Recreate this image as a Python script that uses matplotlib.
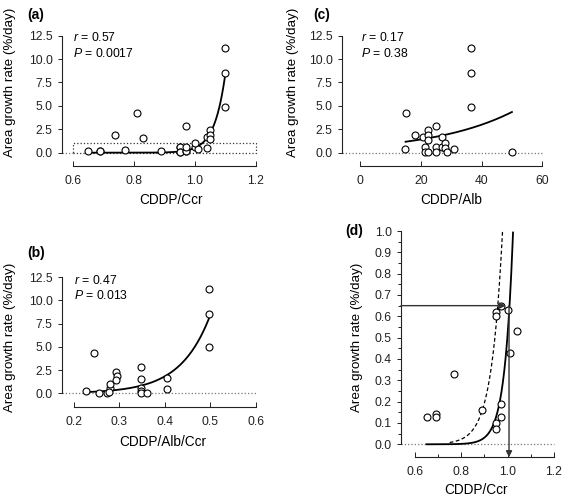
import numpy as np
import matplotlib.pyplot as plt
from matplotlib.patches import Rectangle
from matplotlib.ticker import MultipleLocator, FixedLocator, FormatStrFormatter

plt.rcParams['font.family'] = ['Liberation Sans', 'DejaVu Sans']
plt.rcParams['mathtext.fontset'] = 'custom'
plt.rcParams['mathtext.rm'] = 'Liberation Sans'
plt.rcParams['mathtext.it'] = 'Liberation Sans:italic'

# CDDP/Ccr vs area growth rate (panel a, d)
ccr_x = [0.65, 0.69, 0.69, 0.77, 0.89, 0.95, 0.95, 0.95, 0.95, 0.97, 0.97, 0.97, 1.00, 1.01, 1.04,
         0.74, 0.81, 0.83, 0.97, 1.00, 1.04, 1.05, 1.05, 1.05, 1.10, 1.10, 1.10]
ccr_y = [0.13, 0.14, 0.13, 0.33, 0.16, 0.62, 0.60, 0.10, 0.07, 0.19, 0.13, 0.65, 0.63, 0.43, 0.53,
         1.89, 4.27, 1.60, 2.85, 1.07, 1.70, 2.40, 1.90, 1.42, 11.15, 8.48, 4.90]

# CDDP/Alb/Ccr (panel b)
albccr_x = [0.226, 0.245, 0.256, 0.272, 0.279, 0.279, 0.277, 0.292, 0.295, 0.292, 0.347, 0.347,
            0.347, 0.347, 0.347, 0.360, 0.404, 0.404, 0.497, 0.497, 0.497]
albccr_y = [0.28, 4.31, 0.07, 0.07, 0.54, 1.00, 0.14, 2.33, 1.86, 1.43, 2.80, 1.54,
            0.54, 0.20, 0.07, 0.07, 1.68, 0.46, 11.2, 8.55, 4.96]

# CDDP/Alb (panel c)
alb_x = [14.8, 15.1, 18.1, 20.8, 21.4, 21.4, 22.3, 22.3, 22.3, 22.5, 25.0, 25.0, 25.0,
         27.1, 27.1, 27.9, 27.9, 28.5, 31.0, 36.5, 36.5, 36.5, 50.1]
alb_y = [0.36, 4.27, 1.89, 1.64, 0.64, 0.10, 2.42, 1.89, 1.35, 0.10, 2.85, 0.64, 0.10,
         1.71, 0.64, 1.00, 0.53, 0.10, 0.39, 11.15, 8.48, 4.91, 0.10]

# exponential fits y = y0 * exp(b * (x - x0))
fit_a = dict(y0=1.0, b=28.0, x0=1.0235, lo=0.65, hi=1.10)
fit_b = dict(y0=8.5, b=15.3, x0=0.50, lo=0.225, hi=0.50)
fit_c = dict(y0=1.17, b=0.0375, x0=15.0, lo=15.0, hi=50.0)
fit_d_dash = dict(y0=1.0, b=21.0, x0=0.978, lo=0.75, hi=0.978)

stats_a = ('0.57', '0.0017')
stats_b = ('0.47', '0.013')
stats_c = ('0.17', '0.38')
cut_y = 0.65
cut_x = 1.006

W, H = 563, 500
fig = plt.figure(figsize=(W / 100, H / 100), dpi=100)


def box(l, r, t, b):
    return [l / W, 1 - b / H, (r - l) / W, (b - t) / H]


def fit_line(ax, f, ls='-', lw=1.3, top=None):
    xs = np.linspace(f['lo'], f['hi'], 300)
    ys = f['y0'] * np.exp(f['b'] * (xs - f['x0']))
    if top is not None:
        m = ys <= top
        xs, ys = xs[m], ys[m]
    ax.plot(xs, ys, color='black', ls=ls, lw=lw, zorder=3)


def style(ax, xb, yb):
    for s in ['top', 'right']:
        ax.spines[s].set_visible(False)
    ax.spines['left'].set_bounds(*yb)
    ax.spines['bottom'].set_bounds(*xb)
    for s in ['left', 'bottom']:
        ax.spines[s].set_linewidth(0.8)
        ax.spines[s].set_color('#222222')
    ax.tick_params(axis='y', direction='out', length=3, width=0.7, pad=4, labelsize=8.7, colors='#222222')
    ax.tick_params(axis='x', direction='in', length=3.5, width=0.7, pad=6.5, labelsize=8.7, colors='#222222')
    ax.patch.set_alpha(0)


def scatter(ax, x, y, clip=False):
    ax.plot(x, y, 'o', ms=5, mfc='white', mec='black', mew=0.8, clip_on=clip, zorder=4)


def zero_line(ax, x0, x1):
    ax.plot([x0, x1], [0, 0], ls=':', color='#777777', lw=0.9, clip_on=False, zorder=1)


def stats(ax, x, r, p, y1, y2):
    ax.text(x, y1, r'$\it{r}$ = ' + r, fontsize=8.8, va='center', ha='left')
    ax.text(x, y2, r'$\it{P}$ = ' + p, fontsize=8.8, va='center', ha='left')


# (a)
ax = fig.add_axes(box(62.3, 256, 35.7, 165.7))
ax.set_xlim(0.566, 1.2)
ax.set_ylim(-1.39, 12.5)
style(ax, (0.6, 1.2), (0, 12.5))
ax.set_xticks([0.6, 0.8, 1.0, 1.2])
ax.set_yticks(np.arange(0, 12.6, 2.5))
ax.xaxis.set_major_formatter(FormatStrFormatter('%.1f'))
ax.yaxis.set_major_formatter(FormatStrFormatter('%.1f'))
zero_line(ax, 0.566, 0.6)
ax.add_patch(Rectangle((0.6, 0), 0.6, 1.0, fill=False, ls=':', lw=0.9, ec='#333333', clip_on=False, zorder=2))
fit_line(ax, fit_a)
scatter(ax, ccr_x, ccr_y)
stats(ax, 0.6, *stats_a, 12.36, 10.65)

# (c)
ax = fig.add_axes(box(342.3, 542.3, 35.7, 165.7))
ax.set_xlim(-5.83, 60)
ax.set_ylim(-1.39, 12.5)
style(ax, (0, 60), (0, 12.5))
ax.set_xticks([0, 20, 40, 60])
ax.set_yticks(np.arange(0, 12.6, 2.5))
ax.yaxis.set_major_formatter(FormatStrFormatter('%.1f'))
zero_line(ax, -5.83, 60)
fit_line(ax, fit_c)
scatter(ax, alb_x, alb_y)
stats(ax, 0.3, *stats_c, 12.36, 10.65)

# (b)
ax = fig.add_axes(box(62.3, 256, 277.3, 406.7))
ax.set_xlim(0.1743, 0.6)
ax.set_ylim(-1.444, 12.5)
style(ax, (0.2, 0.6), (0, 12.5))
ax.set_xticks([0.2, 0.3, 0.4, 0.5, 0.6])
ax.set_yticks(np.arange(0, 12.6, 2.5))
ax.xaxis.set_major_formatter(FormatStrFormatter('%.1f'))
ax.yaxis.set_major_formatter(FormatStrFormatter('%.1f'))
zero_line(ax, 0.1743, 0.6)
fit_line(ax, fit_b)
scatter(ax, albccr_x, albccr_y)
stats(ax, 0.2, *stats_b, 12.2, 10.5)

# (d) zoom of (a) below 1 %/day
ax = fig.add_axes(box(401, 554, 231, 457.3))
ax.set_xlim(0.54, 1.2)
ax.set_ylim(-0.061, 1.0)
style(ax, (0.6, 1.2), (0, 1.0))
ax.set_xticks([0.6, 0.8, 1.0, 1.2])
ax.xaxis.set_minor_locator(FixedLocator(np.arange(0.6, 1.21, 0.1)))
ax.set_yticks(np.arange(0, 1.01, 0.1))
ax.yaxis.set_minor_locator(FixedLocator(np.arange(0.05, 1.0, 0.1)))
ax.tick_params(axis='y', which='minor', direction='out', length=2, width=0.6)
ax.tick_params(axis='x', which='minor', direction='in', length=2.5, width=0.6)
ax.tick_params(axis='y', pad=3.5)
ax.xaxis.set_major_formatter(FormatStrFormatter('%.1f'))
ax.yaxis.set_major_formatter(FormatStrFormatter('%.1f'))
zero_line(ax, 0.54, 1.2)
fit_line(ax, fit_a, top=1.0)
fit_line(ax, fit_d_dash, ls=(0, (3, 2)), lw=0.9, top=1.0)
scatter(ax, ccr_x, ccr_y, clip=True)
ax.annotate('', xy=(0.992, cut_y), xytext=(0.54, cut_y),
            arrowprops=dict(arrowstyle='-|>', color='#333333', lw=1.0, mutation_scale=9,
                            shrinkA=0, shrinkB=0), zorder=5)
ax.annotate('', xy=(cut_x, -0.061), xytext=(cut_x, cut_y),
            arrowprops=dict(arrowstyle='-|>', color='#333333', lw=1.0, mutation_scale=9,
                            shrinkA=0, shrinkB=0), zorder=5, annotation_clip=False)


# panel letters and axis titles
def ftxt(x, y, s, **kw):
    fig.text(x / W, 1 - y / H, s, **kw)


ftxt(27, 14.5, '(a)', fontsize=10, fontweight='bold', va='center')
ftxt(313, 14.5, '(c)', fontsize=10, fontweight='bold', va='center')
ftxt(27, 253, '(b)', fontsize=10, fontweight='bold', va='center')
ftxt(345, 231, '(d)', fontsize=10, fontweight='bold', va='center')

ylab = 'Area growth rate (%/day)'
ftxt(10, 82, ylab, fontsize=9.6, rotation=90, ha='center', va='center')
ftxt(293, 82, ylab, fontsize=9.6, rotation=90, ha='center', va='center')
ftxt(10, 337, ylab, fontsize=9.6, rotation=90, ha='center', va='center')
ftxt(357, 337, ylab, fontsize=9.6, rotation=90, ha='center', va='center')

ftxt(171, 200, 'CDDP/Ccr', fontsize=9.8, ha='center', va='center')
ftxt(451, 200, 'CDDP/Alb', fontsize=9.8, ha='center', va='center')
ftxt(163, 441.7, 'CDDP/Alb/Ccr', fontsize=9.8, ha='center', va='center')
ftxt(476, 490, 'CDDP/Ccr', fontsize=9.8, ha='center', va='center')

fig.savefig('out.png', dpi=100)
